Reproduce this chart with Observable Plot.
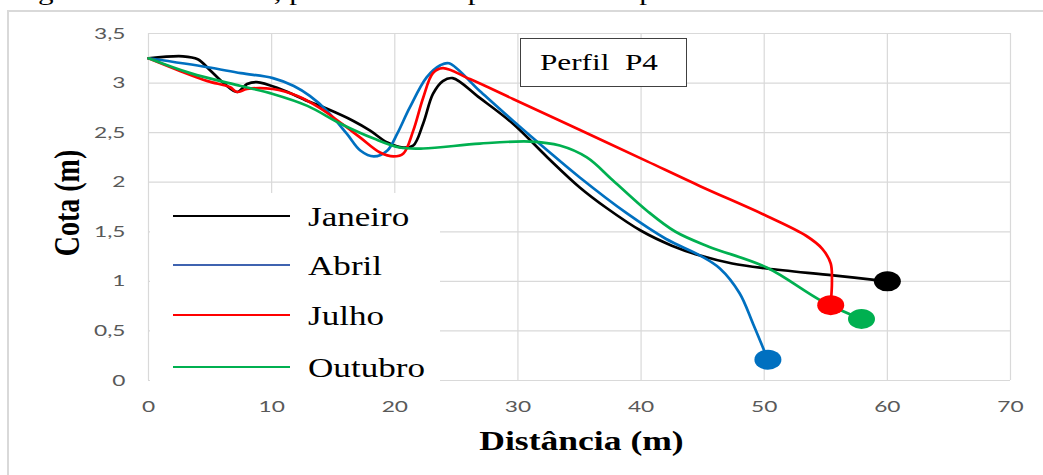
<!DOCTYPE html>
<html>
<head>
<meta charset="utf-8">
<script src="https://cdn.jsdelivr.net/npm/d3@7"></script>
<script src="https://cdn.jsdelivr.net/npm/@observablehq/plot@0.6"></script>
<style>
  html, body { margin: 0; padding: 0; background: #fff; }
  #wrap { position: relative; width: 1043px; height: 475px; overflow: hidden; background: #fff; }
  #wrap svg { position: absolute; left: 0; top: 0; }
  .serif { font-family: "Liberation Serif", "Times New Roman", serif; color: #000; position: absolute; white-space: pre; line-height: 1; }
</style>
</head>
<body>
<div id="wrap"></div>
<script>
// ---- data ----
const series = ["Janeiro", "Abril", "Julho", "Outubro"];
const colors = ["#000000", "#0070C0", "#FF0000", "#00B050"];
const legendColors = ["#000000", "#3F63B0", "#FF0000", "#00B050"];

const janeiroX = [0, 2.8, 4.0, 5.0, 6.1, 7.2, 8.0, 8.8, 10.7, 12.9, 14.5, 16.6, 18.0, 19.4, 20.7, 21.5, 22.3, 23.1, 23.9, 24.7, 26.9, 29.6, 32.4, 35.0, 37.2, 40.0, 42.5, 44.8, 47.4, 50.2, 55.6, 60.0];
const janeiroY = [3.25, 3.27, 3.24, 3.13, 3.0, 2.91, 2.99, 3.01, 2.94, 2.82, 2.74, 2.62, 2.52, 2.40, 2.35, 2.37, 2.59, 2.89, 3.02, 3.05, 2.85, 2.59, 2.25, 1.95, 1.74, 1.51, 1.36, 1.26, 1.18, 1.13, 1.06, 1.00];

const abrilX = [0, 4.8, 7.5, 10.1, 11.8, 13.1, 14.5, 16.1, 17.2, 18.3, 19.4, 20.2, 21.2, 22.6, 23.7, 24.4, 26.9, 29.6, 32.4, 35.0, 38.8, 42.0, 44.8, 46.4, 48.0, 49.1, 50.3];
const abrilY = [3.25, 3.16, 3.10, 3.05, 2.97, 2.87, 2.72, 2.49, 2.32, 2.26, 2.32, 2.49, 2.75, 3.06, 3.18, 3.20, 2.92, 2.62, 2.32, 2.05, 1.69, 1.43, 1.26, 1.13, 0.88, 0.57, 0.21];

const julhoX = [0, 2.6, 4.8, 6.6, 7.2, 8.0, 10.1, 12.1, 13.9, 15.6, 17.2, 18.8, 19.9, 20.7, 21.5, 22.3, 23.1, 23.9, 26.1, 29.6, 35.0, 40.5, 44.8, 50.2, 53.4, 54.7, 55.4, 55.5, 55.4];
const julhoY = [3.25, 3.12, 3.02, 2.96, 2.91, 2.94, 2.94, 2.87, 2.75, 2.60, 2.45, 2.30, 2.26, 2.29, 2.52, 2.85, 3.10, 3.15, 3.04, 2.84, 2.53, 2.21, 1.96, 1.66, 1.46, 1.33, 1.18, 1.01, 0.76];

const outubroX = [0, 3.4, 7.5, 10.1, 12.9, 15.6, 18.3, 20.4, 22.3, 26.9, 31.0, 33.4, 35.6, 37.7, 40.5, 42.8, 45.5, 50.2, 54.7, 57.9];
const outubroY = [3.25, 3.10, 2.97, 2.89, 2.77, 2.59, 2.44, 2.35, 2.34, 2.39, 2.41, 2.37, 2.25, 2.02, 1.71, 1.50, 1.35, 1.14, 0.80, 0.62];

const endX = [60.0, 50.3, 55.4, 57.9];
const endY = [1.00, 0.21, 0.76, 0.62];

const xTicks = [0, 10, 20, 30, 40, 50, 60, 70];
const yTicks = [0, 0.5, 1, 1.5, 2, 2.5, 3, 3.5];

const xTitle = "Distância (m)";
const yTitle = "Cota (m)";
const boxTitle = "Perfil  P4";
const caption = "Figura 38 – Perfil P4, para cada campanha de campo.";

// ---- build table ----
const rows = [];
function add(name, xs, ys) { xs.forEach((x, i) => rows.push({serie: name, x, y: ys[i]})); }
add(series[0], janeiroX, janeiroY);
add(series[1], abrilX, abrilY);
add(series[2], julhoX, julhoY);
add(series[3], outubroX, outubroY);
const ends = series.map((s, k) => ({serie: s, x: endX[k], y: endY[k]}));

const grid = {stroke: "#d9d9d9", strokeOpacity: 1, strokeWidth: 1.2};

const chart = Plot.plot({
  width: 1043, height: 475,
  marginLeft: 148, marginRight: 33, marginTop: 33, marginBottom: 95,
  x: {domain: [0, 70]},
  y: {domain: [0, 3.5]},
  color: {domain: series, range: colors},
  style: {background: "transparent", fontFamily: "Lato", fontSize: "16px", overflow: "visible"},
  marks: [
    Plot.gridX(xTicks, grid),
    Plot.gridY(yTicks, grid),
    Plot.axisX(xTicks, {tickSize: 0, tickPadding: 20, fill: "#595959", label: null, fontSize: 16}),
    Plot.axisY(yTicks, {tickSize: 0, tickPadding: 23, fill: "#595959", label: null, fontSize: 16,
      tickFormat: d => String(d).replace(".", ",")}),
    Plot.line(rows, {x: "x", y: "y", z: "serie", stroke: "serie", strokeWidth: 2.7, curve: "catmull-rom"}),
    Plot.dot(ends, {x: "x", y: "y", fill: "serie", r: 10})
  ]
});

const wrap = document.getElementById("wrap");

// outer frame
const frame = document.createElement("div");
frame.style.cssText = "position:absolute;left:7px;top:10px;width:1100px;height:500px;border-top:2px solid #d9d9d9;border-left:2px solid #d9d9d9;";
wrap.appendChild(frame);

wrap.appendChild(chart);

// horizontal stretch to match the reference's proportions
function stretch(el, sx, anchor) {
  const b = el.getBBox();
  const ax = anchor === "end" ? b.x + b.width : anchor === "start" ? b.x : b.x + b.width / 2;
  const t = el.getAttribute("transform") || "";
  el.setAttribute("transform", `${t} translate(${ax},0) scale(${sx},1) translate(${-ax},0)`);
}
chart.querySelectorAll('g[aria-label="x-axis tick label"] text').forEach(t => stretch(t, 1.42, "middle"));
chart.querySelectorAll('g[aria-label="y-axis tick label"] text').forEach(t => stretch(t, 1.42, "end"));
chart.querySelectorAll('g[aria-label="dot"] circle').forEach(c => stretch(c, 1.35, "middle"));

function addText(txt, css, transform) {
  const d = document.createElement("div");
  d.className = "serif";
  d.textContent = txt;
  d.style.cssText += css;
  if (transform) d.style.transform = transform;
  wrap.appendChild(d);
  return d;
}
// caption (cut at the top edge, as in the reference)
addText(caption, "left:12px;top:-20px;font-size:24px;transform-origin:0 0;", "scaleX(1.3)");

// axis titles
const xt = addText(xTitle, "left:0;top:0;font-size:28px;font-weight:bold;");
{
  const w = xt.offsetWidth, h = xt.offsetHeight;
  xt.style.left = (581 - w / 2) + "px";
  xt.style.top = (441 - h / 2) + "px";
  xt.style.transform = "scaleX(1.27)";
  xt.style.transformOrigin = "50% 50%";
}
const yt = addText(yTitle, "left:0;top:0;font-size:28px;font-weight:bold;");
{
  const w = yt.offsetWidth, h = yt.offsetHeight;
  yt.style.left = (67 - w / 2) + "px";
  yt.style.top = (203 - h / 2) + "px";
  yt.style.transformOrigin = "50% 50%";
  yt.style.transform = "scaleX(1.3) rotate(-90deg)";
}

// title box
const tb = document.createElement("div");
tb.style.cssText = "position:absolute;left:520px;top:38px;width:165px;height:47px;border:1.5px solid #404040;background:#fff;";
wrap.appendChild(tb);
const tt = addText(boxTitle, "left:540px;top:0;font-size:24px;transform-origin:0 50%;", "scaleX(1.3)");
tt.style.top = (62 - tt.offsetHeight / 2) + "px";

// legend box
const lb = document.createElement("div");
lb.style.cssText = "position:absolute;left:150px;top:193px;width:290px;height:192px;background:#fff;";
wrap.appendChild(lb);
const legendY = [216, 265, 315, 367];
series.forEach((s, k) => {
  const ln = document.createElement("div");
  ln.style.cssText = `position:absolute;left:173px;width:117px;top:${legendY[k] - 1}px;height:2.4px;background:${legendColors[k]};`;
  wrap.appendChild(ln);
  const lt = addText(s, "left:308px;top:0;font-size:27px;transform-origin:0 50%;", "scaleX(1.3)");
  lt.style.top = (legendY[k] - lt.offsetHeight / 2 + 1) + "px";
});
</script>
</body>
</html>
